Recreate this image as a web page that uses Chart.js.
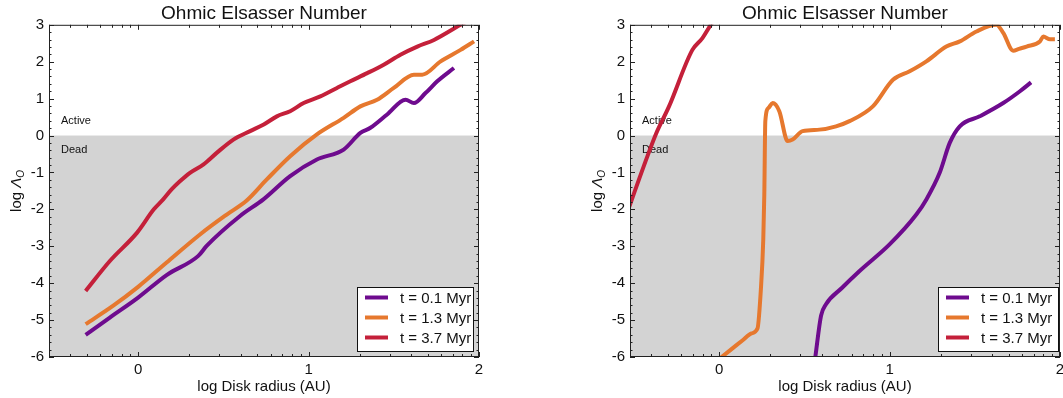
<!DOCTYPE html>
<html>
<head>
<meta charset="utf-8">
<script src="https://cdn.jsdelivr.net/npm/chart.js@4.4.1/dist/chart.umd.min.js"></script>
<style>
  html, body { margin: 0; padding: 0; background: #fff; overflow: hidden; width: 1063px; height: 398px; }
  .panel { position: absolute; top: 0; }
</style>
</head>
<body>
<canvas id="leftChart" class="panel" width="540" height="398" style="left:0"></canvas>
<canvas id="rightChart" class="panel" width="530" height="398" style="left:540px"></canvas>
<script>
const seriesLabels = ['t = 0.1 Myr', 't = 1.3 Myr', 't = 3.7 Myr'];
const seriesColors = ['#6e0b8e', '#e6782e', '#c4203a'];
const xTicks = [0, 1, 2];
const yTicks = [-6, -5, -4, -3, -2, -1, 0, 1, 2, 3];
const xRange = [-0.523, 2];
const yRange = [-6, 3];

// panel izquierdo: log r (AU) y log Lambda_O
const leftR01 = [-0.308, -0.166, 0.0, 0.167, 0.353, 0.402, 0.598, 0.735, 0.892, 1.049, 1.206, 1.304, 1.363, 1.461, 1.569, 1.618, 1.686, 1.755, 1.853];
const leftL01 = [-5.40, -4.93, -4.39, -3.78, -3.26, -2.99, -2.18, -1.73, -1.10, -0.65, -0.38, 0.07, 0.21, 0.57, 0.97, 0.88, 1.15, 1.47, 1.83];
const leftR13 = [-0.308, -0.146, 0.0, 0.167, 0.363, 0.52, 0.637, 0.755, 0.892, 1.049, 1.206, 1.304, 1.402, 1.5, 1.618, 1.667, 1.775, 1.892, 1.971];
const leftL13 = [-5.11, -4.61, -4.10, -3.44, -2.68, -2.14, -1.76, -1.19, -0.56, 0.03, 0.48, 0.79, 0.97, 1.29, 1.65, 1.65, 2.01, 2.32, 2.55];
const leftR37 = [-0.308, -0.166, -0.006, 0.092, 0.147, 0.196, 0.245, 0.304, 0.384, 0.461, 0.559, 0.657, 0.737, 0.814, 0.892, 0.971, 1.069, 1.167, 1.245, 1.344, 1.441, 1.539, 1.638, 1.736, 1.892, 1.95];
const leftL37 = [-4.21, -3.40, -2.63, -2.00, -1.73, -1.46, -1.24, -1.01, -0.78, -0.47, -0.11, 0.12, 0.30, 0.52, 0.66, 0.88, 1.06, 1.29, 1.47, 1.69, 1.92, 2.19, 2.41, 2.59, 3.00, 3.14];

// panel derecho
const rightR01 = [0.55, 0.565, 0.598, 0.627, 0.72, 0.824, 1.0, 1.157, 1.216, 1.294, 1.353, 1.412, 1.529, 1.667, 1.765, 1.83];
const rightL01 = [-6.5, -5.98, -4.88, -4.57, -4.13, -3.67, -2.95, -2.14, -1.73, -1.01, -0.20, 0.25, 0.52, 0.88, 1.20, 1.44];
const rightR13 = [-0.05, 0.02, 0.08, 0.14, 0.19, 0.225, 0.245, 0.259, 0.265, 0.271, 0.29, 0.314, 0.353, 0.402, 0.431, 0.49, 0.588, 0.686, 0.765, 0.902, 1.02, 1.118, 1.216, 1.333, 1.412, 1.51, 1.627, 1.667, 1.725, 1.76, 1.804, 1.882, 1.902, 1.941, 1.97];
const rightL13 = [-6.24, -5.98, -5.76, -5.54, -5.36, -5.23, -4.16, -2.81, -1.60, 0.39, 0.75, 0.88, 0.66, -0.15, -0.11, 0.12, 0.16, 0.25, 0.39, 0.79, 1.51, 1.74, 2.01, 2.41, 2.55, 2.82, 3.00, 2.78, 2.30, 2.35, 2.41, 2.55, 2.68, 2.61, 2.61];
const rightR37 = [-0.56, -0.42, -0.37, -0.294, -0.157, -0.098, -0.049, 0.0];
const rightL37 = [-2.35, -0.55, 0.05, 0.79, 2.32, 2.64, 3.00, 3.3];

const FONT = '"Liberation Sans", Arial, Helvetica, sans-serif';
Chart.defaults.font.family = FONT;
Chart.defaults.color = '#111';

const panelDecor = {
    id: 'panelDecor',
    beforeDatasetsDraw: function (chart) {
        const { ctx, chartArea: a, scales: { y } } = chart;
        const y0 = y.getPixelForValue(0);
        ctx.save();
        ctx.fillStyle = '#d3d3d3';
        ctx.fillRect(a.left, y0, a.right - a.left, a.bottom - y0);
        ctx.fillStyle = '#111';
        ctx.font = '11px ' + FONT;
        ctx.textBaseline = 'middle';
        ctx.fillText('Active', a.left + 12, y.getPixelForValue(0.4));
        ctx.fillText('Dead', a.left + 12, y.getPixelForValue(-0.4));
        ctx.restore();
    },
    afterDatasetsDraw: function (chart) {
        const { ctx, chartArea: a, scales: { x, y } } = chart;
        ctx.save();
        ctx.strokeStyle = '#222';
        ctx.lineWidth = 1;
        ctx.strokeRect(a.left + 0.5, a.top + 0.5, a.right - a.left - 1, a.bottom - a.top - 1);
        ctx.beginPath();
        // marcas del eje y cada 0.2
        for (let i = yRange[0] * 5; i <= yRange[1] * 5; i++) {
            const p = Math.round(y.getPixelForValue(i / 5)) + 0.5;
            const len = i % 5 === 0 ? 5 : 2.5;
            ctx.moveTo(a.left, p); ctx.lineTo(a.left + len, p);
            ctx.moveTo(a.right, p); ctx.lineTo(a.right - len, p);
        }
        // marcas logaritmicas del eje x
        for (let d = -1; d <= 2; d++) {
            for (let k = 1; k <= 9; k++) {
                const v = d + Math.log10(k);
                if (v < xRange[0] || v > xRange[1]) continue;
                const p = Math.round(x.getPixelForValue(v)) + 0.5;
                const len = k === 1 ? 5 : 3;
                ctx.moveTo(p, a.bottom); ctx.lineTo(p, a.bottom - len);
                ctx.moveTo(p, a.top); ctx.lineTo(p, a.top + len);
            }
        }
        ctx.stroke();
        ctx.restore();
    },
    afterDraw: function (chart, args, opts) {
        const { ctx, chartArea: a } = chart;
        ctx.save();
        // leyenda
        const bw = opts.legendWidth, bh = 64;
        const bx = a.right - opts.legendRight - bw;
        const by = a.bottom - 6 - bh;
        ctx.fillStyle = '#fff';
        ctx.fillRect(bx, by, bw, bh);
        ctx.strokeStyle = '#111';
        ctx.lineWidth = 1;
        ctx.strokeRect(Math.round(bx) + 0.5, Math.round(by) + 0.5, bw, bh);
        ctx.font = '15px ' + FONT;
        ctx.textBaseline = 'middle';
        seriesLabels.forEach((label, i) => {
            const ry = by + 10.5 + 20 * i;
            ctx.strokeStyle = seriesColors[i];
            ctx.lineWidth = 4;
            ctx.beginPath();
            ctx.moveTo(bx + 8, ry);
            ctx.lineTo(bx + 31, ry);
            ctx.stroke();
            ctx.fillStyle = '#111';
            ctx.fillText(label, bx + 43, ry + 1);
        });
        // titulo del eje y: log Lambda_O
        ctx.translate(a.left - 28, (a.top + a.bottom) / 2);
        ctx.rotate(-Math.PI / 2);
        ctx.textBaseline = 'alphabetic';
        ctx.fillStyle = '#111';
        ctx.font = '15px ' + FONT;
        const w1 = ctx.measureText('log ').width;
        ctx.font = 'italic 15px ' + FONT;
        const w2 = ctx.measureText('\u039B').width;
        ctx.font = 'italic 10px ' + FONT;
        const w3 = ctx.measureText('O').width;
        let sx = -(w1 + w2 + w3) / 2;
        ctx.font = '15px ' + FONT;
        ctx.fillText('log ', sx, 0);
        sx += w1;
        ctx.font = 'italic 15px ' + FONT;
        ctx.fillText('\u039B', sx, 0);
        sx += w2;
        ctx.font = 'italic 10px ' + FONT;
        ctx.fillText('O', sx, 3);
        ctx.restore();
    }
};

function toPoints(xs, ys) {
    return xs.map((v, i) => ({ x: v, y: ys[i] }));
}

function makeChart(id, series, pad, legendOpts) {
    return new Chart(document.getElementById(id), {
        type: 'line',
        data: {
            datasets: series.map((s, i) => ({
                label: seriesLabels[i],
                data: toPoints(s[0], s[1]),
                borderColor: seriesColors[i],
                borderWidth: 4,
                pointRadius: 0,
                cubicInterpolationMode: 'monotone',
                clip: 0
            }))
        },
        options: {
            responsive: false,
            animation: false,
            layout: { padding: pad },
            plugins: {
                legend: { display: false },
                tooltip: { enabled: false },
                title: {
                    display: true,
                    text: 'Ohmic Elsasser Number',
                    fullSize: false,
                    color: '#111',
                    font: { size: 19, weight: 'normal' },
                    padding: { top: 2, bottom: 0 }
                },
                panelDecor: legendOpts
            },
            scales: {
                x: {
                    type: 'linear',
                    min: xRange[0],
                    max: xRange[1],
                    afterBuildTicks: scale => { scale.ticks = xTicks.map(v => ({ value: v })); },
                    afterFit: scale => { scale.height = 41; },
                    grid: { display: false, drawTicks: false },
                    border: { display: false },
                    ticks: { padding: 4, font: { size: 15 }, color: '#111', callback: v => String(v) },
                    title: {
                        display: true,
                        text: 'log Disk radius (AU)',
                        color: '#111',
                        font: { size: 15 },
                        padding: { top: 0, bottom: 2 }
                    }
                },
                y: {
                    type: 'linear',
                    min: yRange[0],
                    max: yRange[1],
                    afterBuildTicks: scale => { scale.ticks = yTicks.map(v => ({ value: v })); },
                    afterFit: scale => { scale.width = 49; },
                    grid: { display: false, drawTicks: false },
                    border: { display: false },
                    ticks: { padding: 5, font: { size: 15 }, color: '#111', callback: v => String(v) }
                }
            }
        },
        plugins: [panelDecor]
    });
}

makeChart('leftChart',
    [[leftR01, leftL01], [leftR13, leftL13], [leftR37, leftL37]],
    { left: 0, right: 61, top: 0, bottom: 0 },
    { legendRight: 6, legendWidth: 116 });

makeChart('rightChart',
    [[rightR01, rightL01], [rightR13, rightL13], [rightR37, rightL37]],
    { left: 41, right: 10, top: 0, bottom: 0 },
    { legendRight: 2, legendWidth: 120 });
</script>
</body>
</html>
